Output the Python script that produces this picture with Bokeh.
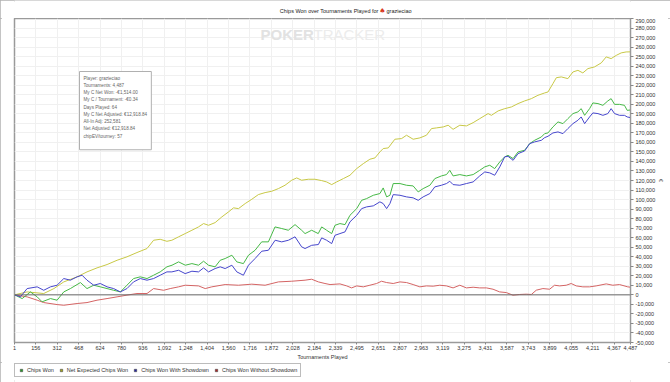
from bokeh.plotting import figure
from bokeh.layouts import column
from bokeh.models import (Range1d, FixedTicker, NumeralTickFormatter, Span, Label,
                          Legend, LegendItem)
from bokeh.embed import file_html
from bokeh.resources import INLINE

# ---------------- data (tournament number, chips in thousands) ----------------
green_t = [1, 57, 117, 166, 202, 263, 311, 360, 408, 481,
           529, 578, 626, 675, 723, 772, 820, 868, 917, 966,
           1014, 1062, 1111, 1148, 1196, 1245, 1293, 1341, 1378, 1414,
           1462, 1499, 1535, 1584, 1620, 1668, 1705, 1753, 1801, 1850,
           1898, 1947, 1995, 2044, 2092, 2117, 2165, 2213, 2238, 2274,
           2311, 2335, 2371, 2408, 2444, 2493, 2529, 2565, 2614, 2662,
           2686, 2711, 2735, 2759, 2808, 2856, 2904, 2941, 2977, 3026,
           3062, 3110, 3147, 3171, 3195, 3244, 3292, 3341, 3389, 3426,
           3462, 3498, 3535, 3571, 3595, 3632, 3668, 3716, 3753, 3789,
           3838, 3862, 3886, 3922, 3959, 3995, 4031, 4068, 4104, 4128,
           4153, 4189, 4213, 4250, 4286, 4322, 4346, 4371, 4407, 4443,
           4463, 4487]
green_k = [0, -3.9, 3.1, -2.1, -7.3, -3.9, -5.6, 3.1, 6.6, 12.9,
           6.6, 10.1, 8.4, 6.6, 4.8, 3.1, 10.1, 17.1, 18.9, 17.1,
           20.6, 24.1, 29.4, 31.1, 34.6, 31.1, 32.8, 31.1, 35.3, 31.1,
           29.4, 36.3, 38.1, 41.6, 34.6, 32.8, 41.6, 46.8, 55.6, 55.6,
           71.3, 69.6, 67.8, 73.7, 67.8, 64.3, 67.8, 64.3, 71.3, 67.8,
           64.3, 73.0, 74.8, 73.7, 83.5, 90.5, 99.2, 101.0, 104.5, 106.3,
           112.2, 102.8, 104.5, 116.8, 116.8, 115.0, 114.3, 108.0, 111.5, 115.0,
           122.0, 124.8, 126.2, 130.7, 124.8, 126.2, 124.8, 126.2, 130.7, 134.3,
           136.0, 132.5, 139.5, 144.8, 146.4, 143.0, 150.0, 151.7, 158.7, 162.2,
           165.7, 169.2, 169.9, 176.2, 181.5, 179.7, 184.9, 190.2, 192.0, 195.4,
           188.4, 195.4, 201.4, 200.7, 198.9, 203.5, 205.9, 199.9, 199.9, 198.9,
           193.6, 194.0]

yellow_t = [1, 93, 214, 288, 360, 457, 529, 602, 675, 748,
            820, 893, 966, 1014, 1062, 1111, 1147, 1196, 1244, 1293,
            1341, 1378, 1414, 1462, 1511, 1559, 1596, 1632, 1681, 1729,
            1777, 1826, 1874, 1923, 1971, 2020, 2056, 2092, 2141, 2189,
            2238, 2274, 2311, 2347, 2396, 2444, 2493, 2541, 2589, 2626,
            2662, 2686, 2723, 2771, 2820, 2856, 2904, 2953, 3001, 3038,
            3074, 3123, 3159, 3195, 3244, 3292, 3341, 3389, 3450, 3474,
            3523, 3571, 3620, 3668, 3716, 3765, 3813, 3862, 3886, 3922,
            3947, 3983, 4031, 4068, 4104, 4140, 4177, 4225, 4274, 4310,
            4346, 4383, 4419, 4455, 4487]
yellow_k = [0, 3.1, 1.4, 6.6, 13.6, 18.9, 24.1, 28.3, 31.8, 36.3,
            39.9, 44.4, 48.6, 57.3, 58.3, 56.2, 57.3, 60.9, 64.3, 67.8,
            71.3, 74.8, 73.0, 75.8, 81.8, 87.0, 91.3, 90.5, 95.8, 100.3,
            105.2, 107.3, 108.7, 111.5, 115.0, 120.3, 122.7, 120.3, 121.3, 121.3,
            119.9, 118.5, 115.7, 118.5, 122.0, 125.5, 132.5, 137.7, 142.3, 143.7,
            150.0, 153.5, 154.2, 163.3, 164.0, 167.5, 163.3, 164.7, 167.5, 174.5,
            175.2, 176.2, 178.0, 173.7, 178.0, 177.3, 180.7, 184.9, 190.2, 188.4,
            193.0, 195.4, 197.2, 200.7, 203.5, 205.9, 209.4, 211.9, 212.9, 221.6,
            227.9, 228.7, 226.9, 233.9, 235.6, 232.9, 237.4, 239.2, 243.4, 249.7,
            247.9, 251.3, 253.9, 254.9, 255.0]

blue_t = [1, 44, 93, 166, 214, 263, 311, 360, 408, 457,
          493, 529, 578, 626, 675, 723, 772, 820, 868, 917,
          966, 1014, 1062, 1111, 1147, 1196, 1244, 1293, 1341, 1378,
          1414, 1462, 1499, 1535, 1584, 1620, 1668, 1705, 1753, 1802,
          1850, 1899, 1947, 1996, 2044, 2092, 2117, 2165, 2214, 2238,
          2274, 2311, 2335, 2371, 2408, 2444, 2493, 2529, 2565, 2614,
          2662, 2686, 2711, 2735, 2759, 2808, 2856, 2904, 2941, 2977,
          3026, 3062, 3110, 3147, 3171, 3195, 3244, 3292, 3341, 3389,
          3426, 3462, 3498, 3535, 3571, 3595, 3632, 3668, 3716, 3753,
          3789, 3838, 3862, 3886, 3922, 3959, 3995, 4031, 4068, 4104,
          4128, 4153, 4189, 4213, 4250, 4286, 4322, 4346, 4371, 4407,
          4443, 4463, 4487]
blue_k = [0, -2.1, 6.6, 8.4, 4.8, 8.4, 10.1, 17.1, 15.4, 18.9,
          20.6, 15.4, 10.1, 11.9, 8.4, 6.6, 3.1, 6.6, 13.6, 17.1,
          15.4, 17.1, 20.6, 24.1, 24.1, 25.8, 22.3, 24.8, 24.1, 28.3,
          24.1, 27.6, 29.4, 27.6, 31.1, 24.1, 20.6, 31.1, 38.1, 45.8,
          46.8, 57.3, 55.6, 57.3, 60.9, 50.4, 48.6, 52.0, 52.8, 59.8,
          57.3, 53.8, 62.5, 64.3, 66.1, 76.6, 83.5, 90.5, 92.3, 93.4,
          97.6, 95.8, 90.5, 95.8, 105.2, 104.5, 102.8, 101.8, 99.2, 102.8,
          106.3, 113.3, 115.0, 116.8, 119.2, 115.7, 115.0, 116.8, 118.5, 124.8,
          129.0, 128.0, 125.5, 134.3, 144.8, 145.4, 141.2, 148.2, 151.0, 158.7,
          160.5, 162.2, 165.0, 166.4, 169.9, 171.0, 169.2, 174.5, 179.7, 183.2,
          186.7, 179.7, 186.7, 190.9, 190.2, 188.4, 190.2, 195.4, 190.2, 188.4,
          188.4, 186.7, 186.0]

red_t = [1, 93, 166, 214, 311, 360, 457, 529, 602, 675,
         748, 820, 893, 966, 1014, 1087, 1135, 1196, 1244, 1341,
         1390, 1438, 1535, 1632, 1729, 1826, 1923, 2020, 2117, 2165,
         2214, 2262, 2299, 2371, 2420, 2456, 2493, 2541, 2589, 2638,
         2674, 2711, 2759, 2808, 2856, 2904, 2953, 3001, 3050, 3098,
         3147, 3195, 3244, 3292, 3341, 3389, 3438, 3486, 3534, 3583,
         3631, 3680, 3728, 3765, 3801, 3849, 3898, 3934, 3971, 4019,
         4055, 4092, 4140, 4189, 4237, 4310, 4358, 4407, 4467, 4487]
red_k = [0, -2.1, -5.6, -8.1, -10.2, -10.9, -9.1, -8.1, -5.6, -3.9,
         -2.1, -0.3, 1.4, 1.4, 6.6, 4.8, 6.6, 8.4, 10.1, 9.4,
         6.6, 8.4, 10.8, 10.1, 11.2, 10.1, 13.6, 14.3, 15.4, 16.4,
         13.6, 11.9, 10.8, 11.5, 9.4, 7.3, 9.4, 8.4, 10.1, 11.9,
         14.3, 12.9, 11.9, 13.6, 12.9, 10.8, 8.4, 9.4, 9.1, 10.1,
         9.4, 7.3, 10.1, 7.3, 8.0, 7.3, 7.3, 5.9, 3.1, 2.4,
         -0.4, 0.4, 0.7, 0.4, 4.9, 6.6, 5.9, 10.1, 9.4, 10.1,
         11.9, 9.4, 8.4, 8.4, 9.4, 11.5, 10.1, 10.8, 8.4, 8.0]

x_ticks = [1, 156, 312, 468, 624, 780, 936, 1092, 1248, 1404, 1560, 1716, 1872,
           2028, 2184, 2339, 2495, 2651, 2807, 2963, 3119, 3275, 3431, 3587,
           3743, 3899, 4055, 4211, 4367, 4487]
y_ticks = [-50000, -40000, -30000, -20000, -10000, 0, 10000, 20000, 30000, 40000,
           50000, 60000, 70000, 80000, 90000, 100000, 110000, 120000, 130000,
           140000, 150000, 160000, 170000, 180000, 190000, 200000, 210000,
           220000, 230000, 240000, 250000, 260000, 270000, 280000, 290000]

series_names = ["Chips Won", "Net Expected Chips Won", "Chips Won With Showdown",
                "Chips Won Without Showdown"]
info_lines = ["Player: grazieciao", "Tournaments: 4,487", "My C Net Won: -€1,514.00",
              "My C / Tournament: -€0.34", "Days Played: 64",
              "My C Net Adjusted: €12,918.84", "All-In Adj: 252,581",
              "Net Adjusted: €12,918.84", "chipEV/tourney: 57"]
title_text = "Chips Won over Tournaments Played for"
player_name = "grazieciao"

# ---------------- styles ----------------
FONT = "Liberation Sans"
line_colors = ["#46b846", "#c8c846", "#4646cc", "#d46464"]
legend_fill = ["#23a023", "#a8a818", "#2020a8", "#b02020"]


def bare(fig):
    fig.outline_line_color = None
    fig.background_fill_color = "white"
    fig.border_fill_color = "white"
    fig.grid.visible = False
    return fig


# ---------------- title strip ----------------
top = bare(figure(width=670, height=18, output_backend="svg", toolbar_location=None,
                  x_range=Range1d(0, 1), y_range=Range1d(0, 1),
                  x_axis_location=None, y_axis_location=None,
                  min_border_left=0, min_border_right=0, min_border_top=0,
                  min_border_bottom=0))
top.add_layout(Label(x=364, y=8, x_units="screen", y_units="screen", text=title_text,
                     text_font=FONT, text_font_size="5.5px", text_color="#222222",
                     text_align="right", text_baseline="middle"))
top.add_layout(Label(x=368, y=8, x_units="screen", y_units="screen", text="♠",
                     text_font="DejaVu Sans", text_font_size="7px",
                     text_color="#d83a1e", text_align="center", text_baseline="middle"))
top.add_layout(Label(x=372, y=8, x_units="screen", y_units="screen", text=player_name,
                     text_font=FONT, text_font_size="5.5px", text_color="#222222",
                     text_align="left", text_baseline="middle"))

# ---------------- main chart ----------------
p = figure(width=670, height=344, output_backend="svg", toolbar_location=None,
           x_range=Range1d(1, 4487), y_range=Range1d(-50000, 290000),
           y_axis_location="right", min_border_left=13, min_border_right=40,
           min_border_top=0, min_border_bottom=18)
p.background_fill_color = "white"
p.border_fill_color = "white"
p.outline_line_color = "#9a9a9a"
p.outline_line_width = 1.5

for ax in (p.xaxis[0], p.yaxis[0]):
    ax.formatter = NumeralTickFormatter(format="0,0")
    ax.major_label_text_font = FONT
    ax.major_label_text_font_size = "5.5px"
    ax.major_label_text_color = "#333333"
    ax.axis_line_color = "#9a9a9a"
    ax.major_tick_line_color = "#888888"
    ax.major_tick_in = 0
    ax.major_tick_out = 2
    ax.minor_tick_line_color = None
    ax.major_label_standoff = 1
    ax.axis_label_text_font = FONT
    ax.axis_label_text_font_size = "5.5px"
    ax.axis_label_text_font_style = "normal"
    ax.axis_label_text_color = "#333333"
    ax.axis_label_standoff = 1
p.yaxis[0].major_tick_out = 3
p.yaxis[0].major_label_standoff = 2
p.yaxis[0].axis_label_standoff = 0

p.xaxis[0].ticker = FixedTicker(ticks=x_ticks)
p.yaxis[0].ticker = FixedTicker(ticks=y_ticks)
p.xaxis[0].axis_label = "Tournaments Played"
p.yaxis[0].axis_label = "€"
p.xgrid.grid_line_color = "#f0f0f0"
p.ygrid.grid_line_color = "#f0f0f0"

# watermark
p.add_layout(Label(x=246, y=300, x_units="screen", y_units="screen", text="POKER",
                   text_font=FONT, text_font_size="15px", text_font_style="bold",
                   text_color="#e2e2e2"))
p.add_layout(Label(x=299, y=300, x_units="screen", y_units="screen", text="TRACKER",
                   text_font=FONT, text_font_size="15px", text_color="#ececec"))

p.add_layout(Span(location=0, dimension="width", line_color="#6a6a6a", line_width=1))

series = [(green_t, green_k), (yellow_t, yellow_k), (blue_t, blue_k), (red_t, red_k)]
draw_order = [3, 1, 0, 2]
for i in draw_order:
    t, k = series[i]
    p.line(t, [v * 1000 for v in k], line_color=line_colors[i], line_width=1)

# info box
p.add_layout(Label(x=65, y=271, x_units="screen", y_units="screen",
                   text="\n".join(info_lines) + "\n ", text_font=FONT,
                   text_font_size="4.6px", text_line_height=1.45,
                   text_color="#666666", text_baseline="top", text_align="left",
                   background_fill_color="white", border_line_color="#b0b0b0",
                   border_line_width=1, padding=4))

# ---------------- legend strip ----------------
leg = bare(figure(width=670, height=20, output_backend="svg", toolbar_location=None,
                  x_range=Range1d(0, 5000), y_range=Range1d(-60000, 300000),
                  x_axis_location=None, y_axis_location=None,
                  min_border_left=14, min_border_right=0, min_border_top=1,
                  min_border_bottom=0))
items = []
for i, name in enumerate(series_names):
    t, k = series[i]
    r = leg.scatter(x=t[-1:], y=[v * 1000 for v in k[-1:]], marker="square", size=6,
                    fill_color=legend_fill[i], line_color="#444444", line_width=0.6,
                    visible=False)
    items.append(LegendItem(label=name, renderers=[r]))
legend = Legend(items=items, orientation="horizontal", location="top_left",
                label_text_font=FONT, label_text_font_size="5.5px",
                label_text_color="#333333", glyph_width=6, glyph_height=6,
                label_height=6, label_width=10, label_standoff=3, spacing=4,
                padding=3, margin=0,
                border_line_color="#7a7a7a", border_line_width=1,
                background_fill_color="white", inactive_fill_alpha=0)
leg.add_layout(legend, "center")

layout = column(top, p, leg, spacing=0,
                styles={"outline": "2px solid #b0b0b0", "outline-offset": "-2px"})
open("out.html", "w").write(file_html(layout, INLINE))
